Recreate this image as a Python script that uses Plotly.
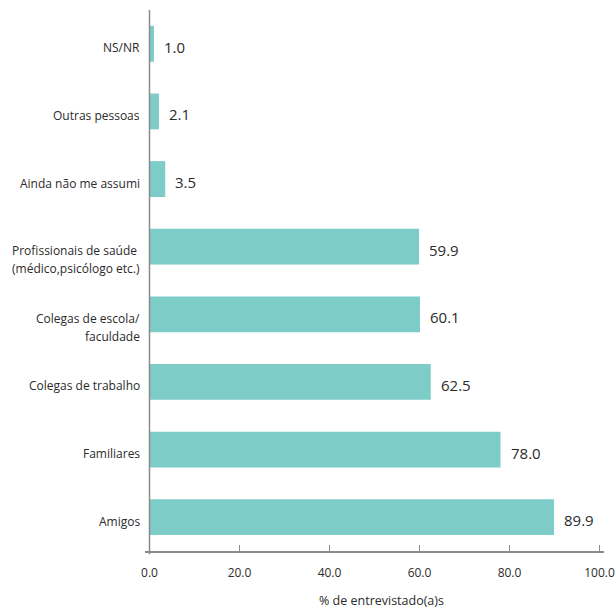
import plotly.graph_objects as go

# Respondents: to whom they have come out (% of respondents)
categories = [
    "Amigos",
    "Familiares",
    "Colegas de trabalho",
    "Colegas de escola/<br>faculdade",
    "Profissionais de saúde <br>(médico,psicólogo etc.)",
    "Ainda não me assumi",
    "Outras pessoas",
    "NS/NR",
]
values = [89.9, 78.0, 62.5, 60.1, 59.9, 3.5, 2.1, 1.0]
tick_values = [0, 20, 40, 60, 80, 100]
tick_labels = ["0.0", "20.0", "40.0", "60.0", "80.0", "100.0"]

BAR = "#7dccc7"
AXIS = "#8a8a8a"
TEXT = "#2b2b2b"
FONT = "Open Sans, Lato, sans-serif"
LINE_GAP = 18  # px between lines of a wrapped category label

fig = go.Figure(
    go.Bar(
        x=values,
        y=categories,
        orientation="h",
        marker=dict(color=BAR, line=dict(width=0)),
        width=0.53,
        hoverinfo="skip",
    )
)

for cat, v in zip(categories, values):
    # value label to the right of each bar
    fig.add_annotation(
        x=v, y=cat, text=f"{v:.1f}", showarrow=False,
        xanchor="left", yanchor="middle", xshift=8, yshift=-3,
        font=dict(family=FONT, size=15, color=TEXT),
    )
    # category label, one annotation per line, right-aligned to the axis
    for i, line in enumerate(cat.split("<br>")):
        fig.add_annotation(
            xref="paper", x=0, y=cat, text=line, showarrow=False,
            xanchor="right", yanchor="middle", xshift=-3,
            yshift=-4 - i * LINE_GAP,
            font=dict(family=FONT, size=12, color=TEXT),
        )

# vertical axis line at zero
fig.add_shape(
    type="line", xref="x", yref="paper", x0=0, x1=0, y0=-0.006, y1=1,
    line=dict(color=AXIS, width=1.5),
)

fig.add_annotation(
    xref="paper", yref="paper", x=0.515, y=-0.092,
    text="% de entrevistado(a)s", showarrow=False,
    xanchor="center", yanchor="middle",
    font=dict(family=FONT, size=12.5, color=TEXT),
)

fig.update_layout(
    width=616, height=610,
    margin=dict(l=145, r=12, t=10, b=59),
    paper_bgcolor="white", plot_bgcolor="white",
    showlegend=False,
    font=dict(family=FONT, color=TEXT),
    bargap=0.47,
)
fig.update_xaxes(
    range=[-1, 101], automargin=False,
    tickvals=tick_values, ticktext=tick_labels,
    ticks="inside", ticklen=6, tickwidth=1.2, tickcolor=AXIS,
    showline=True, linecolor=AXIS, linewidth=1.5,
    showgrid=False, zeroline=False,
    tickfont=dict(family=FONT, size=12, color=TEXT),
    ticklabelstandoff=10,
)
fig.update_yaxes(
    automargin=False, showticklabels=False,
    showline=False, showgrid=False, zeroline=False, ticks="",
)

fig.write_html("out.html")
